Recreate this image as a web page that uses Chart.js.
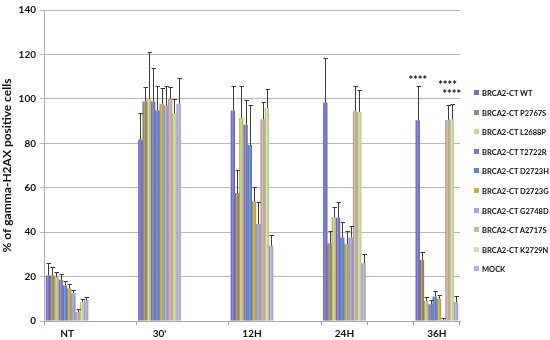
<!DOCTYPE html>
<html><head><meta charset="utf-8">
<script src="https://cdn.jsdelivr.net/npm/chart.js@4.4.1/dist/chart.umd.min.js"></script>
<style>
html,body{margin:0;padding:0;background:#fff;}
#wrap{position:relative;width:550px;height:340px;}
#legend{position:absolute;left:0;top:0;width:550px;height:340px;pointer-events:none;}
.li{position:absolute;left:474px;height:10px;line-height:10px;font:bold 7.5px Lato, sans-serif;color:#111;white-space:nowrap;}
.sw{display:inline-block;width:5px;height:5px;margin-right:3px;vertical-align:1px;}
</style></head><body>
<div id="wrap"><canvas id="c" width="550" height="340"></canvas><div id="legend"></div></div>
<script>
// ---- data ----
const categories = ['NT', "30'", '12H', '24H', '36H'];
const seriesNames = ['BRCA2-CT WT','BRCA2-CT P2767S','BRCA2-CT L2688P','BRCA2-CT T2722R','BRCA2-CT D2723H','BRCA2-CT D2723G','BRCA2-CT G2748D','BRCA2-CT A2717S','BRCA2-CT K2729N','MOCK'];
const yTickValues = [0, 20, 40, 60, 80, 100, 120, 140];

const wtValues     = [20.5, 81.7, 94.8, 98.2, 90.4];
const p2767sValues = [20.5, 98.8, 57.6, 34.9, 27.5];
const l2688pValues = [19.8, 100.0, 91.4, 46.8, 9.0];
const t2722rValues = [18.6, 98.8, 88.4, 46.5, 7.5];
const d2723hValues = [16.0, 94.8, 79.2, 37.6, 11.0];
const d2723gValues = [14.6, 97.8, 53.9, 34.6, 10.0];
const g2748dValues = [12.5, 97.0, 43.6, 37.6, 0.5];
const a2717sValues = [4.0, 100.0, 90.8, 94.4, 90.5];
const k2729nValues = [8.5, 93.3, 95.9, 94.1, 90.8];
const mockValues   = [9.5, 97.8, 33.9, 26.0, 8.5];

const wtErrors     = [5.5, 12.0, 11.0, 20.0, 15.6];
const p2767sErrors = [4.0, 6.7, 10.4, 5.4, 3.5];
const l2688pErrors = [2.2, 21.0, 14.6, 4.5, 2.0];
const t2722rErrors = [2.4, 15.0, 11.2, 7.1, 1.9];
const d2723hErrors = [2.0, 11.0, 18.1, 7.1, 2.5];
const d2723gErrors = [1.9, 7.3, 6.3, 5.7, 1.6];
const g2748dErrors = [1.3, 9.0, 10.0, 5.2, 1.0];
const a2717sErrors = [1.2, 5.5, 8.0, 11.6, 6.8];
const k2729nErrors = [1.3, 6.7, 8.6, 9.9, 7.0];
const mockErrors   = [1.3, 11.4, 4.9, 4.2, 2.6];

// significance marks: series index, category index, label height (y units)
const starSeries = [0, 7, 8];
const starCategory = [4, 4, 4];
const starLevels = [109, 107, 103];

// ---- styles ----
const seriesColors = ['#6e6ed6','#9c8a5e','#cdd07e','#7c74c8','#5684dc','#c8ae42','#9ea4e8','#d4b0a0','#d0e29c','#b6aee4'];

const allValues = [wtValues,p2767sValues,l2688pValues,t2722rValues,d2723hValues,d2723gValues,g2748dValues,a2717sValues,k2729nValues,mockValues];
const allErrors = [wtErrors,p2767sErrors,l2688pErrors,t2722rErrors,d2723hErrors,d2723gErrors,g2748dErrors,a2717sErrors,k2729nErrors,mockErrors];

// spread categories with empty spacer slots so groups sit left in each interval
const slotLabels = [];
categories.forEach((c,i)=>{ slotLabels.push(c); if(i<categories.length-1) slotLabels.push(''); });
const spread = arr => { const out=[]; arr.forEach((v,i)=>{ out.push(v); if(i<arr.length-1) out.push(null); }); return out; };

const datasets = seriesNames.map((n,i)=>({
  label:n, data:spread(allValues[i]), errors:spread(allErrors[i]),
  backgroundColor:seriesColors[i], borderWidth:0,
  categoryPercentage:0.92, barPercentage:1.0
}));

const barShade = {
  id:'barShade',
  afterDatasetsDraw(chart){
    const ctx=chart.ctx; ctx.save();
    chart.data.datasets.forEach((ds,di)=>{
      chart.getDatasetMeta(di).data.forEach((bar,j)=>{
        if(ds.data[j]==null) return;
        const l=bar.x-bar.width/2, r=bar.x+bar.width/2, t=Math.min(bar.y,bar.base), b=Math.max(bar.y,bar.base);
        const g=ctx.createLinearGradient(l,0,r,0);
        g.addColorStop(0,'rgba(0,0,0,0.25)');
        g.addColorStop(0.4,'rgba(255,255,255,0.22)');
        g.addColorStop(1,'rgba(0,0,0,0.10)');
        ctx.fillStyle=g; ctx.fillRect(l,t,r-l,b-t);
      });
    });
    ctx.restore();
  }
};

const errorBars = {
  id:'errorBars',
  afterDatasetsDraw(chart){
    const ctx=chart.ctx, ys=chart.scales.y; ctx.save();
    ctx.strokeStyle='#3c3c3c'; ctx.lineWidth=1;
    chart.data.datasets.forEach((ds,di)=>{
      chart.getDatasetMeta(di).data.forEach((bar,j)=>{
        const v=ds.data[j]; if(v==null) return;
        const e=ds.errors[j];
        const x=Math.round(bar.x)+0.5;
        const y0=ys.getPixelForValue(v), y1=Math.round(ys.getPixelForValue(v+e))+0.5;
        ctx.beginPath(); ctx.moveTo(x,y0); ctx.lineTo(x,y1);
        ctx.moveTo(x-2,y1); ctx.lineTo(x+2.5,y1); ctx.stroke();
      });
    });
    // stars
    ctx.fillStyle='#111'; ctx.font='bold 11px Lato, sans-serif'; ctx.textAlign='center'; ctx.textBaseline='middle';
    starSeries.forEach((s,k)=>{
      const bar=chart.getDatasetMeta(s).data[starCategory[k]*2];
      ctx.fillText('****', bar.x, ys.getPixelForValue(starLevels[k])+2);
    });
    ctx.restore();
  }
};

new Chart(document.getElementById('c'),{
  type:'bar',
  data:{labels:slotLabels, datasets},
  options:{
    responsive:false, animation:false,
    layout:{padding:{top:7,right:90,left:0,bottom:0}},
    plugins:{legend:{display:false},tooltip:{enabled:false}},
    scales:{
      x:{
        ticks:{font:{family:'Lato',weight:'bold',size:10},color:'#111',maxRotation:0,autoSkip:false,padding:3},
        grid:{offset:true,drawOnChartArea:false,tickLength:4,
          color:c=>(c.index===undefined||[0,2,4,6,7,8].includes(c.index))?'#a0a0a0':'rgba(0,0,0,0)'},
        border:{color:'#a8a8a8'},
        afterFit(s){s.height=19;}
      },
      y:{
        min:0,max:140,
        afterBuildTicks(s){s.ticks=yTickValues.map(v=>({value:v}));},
        ticks:{font:{family:'Lato',weight:'bold',size:10},color:'#111',padding:4},
        grid:{color:'#b8b8b8',tickLength:4},
        border:{color:'#b0b0b0'},
        title:{display:true,text:'% of gamma-H2AX positive cells',font:{family:'Lato',weight:'bold',size:12},color:'#111',padding:0},
        afterFit(s){s.width=44;}
      }
    }
  },
  plugins:[barShade,errorBars]
});

// legend
const lg=document.getElementById('legend');
seriesNames.forEach((n,i)=>{
  const d=document.createElement('div'); d.className='li';
  d.style.top=(94+19.6*i-5)+'px';
  d.innerHTML='<span class="sw" style="background:'+seriesColors[i]+'"></span>';
  d.appendChild(document.createTextNode(n));
  lg.appendChild(d);
});
</script>
</body></html>
